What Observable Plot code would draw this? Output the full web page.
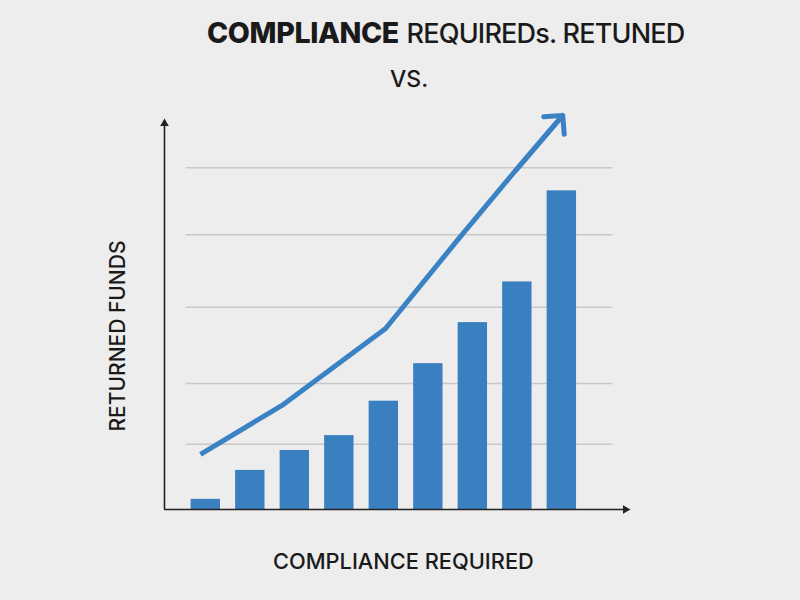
<!DOCTYPE html>
<html>
<head>
<meta charset="utf-8">
<script src="https://cdn.jsdelivr.net/npm/d3@7"></script>
<script src="https://cdn.jsdelivr.net/npm/@observablehq/plot@0.6"></script>
<style>
  html, body { margin: 0; padding: 0; background: #ededed; }
  #wrap { position: relative; width: 800px; height: 600px; overflow: hidden; background: #ededed; font-family: Inter, "Open Sans", sans-serif; color: #1a1a1a; }
  #wrap svg { position: absolute; left: 0; top: 0; }
  .t { position: absolute; white-space: nowrap; line-height: 1; }
  #title { left: 207px; top: 19px; font-size: 27px; }
  #title b { font-weight: 800; font-size: 28.6px; letter-spacing: -0.4px; }
  #title span { font-weight: 500; letter-spacing: -0.8px; }
  #vs { left: 390px; top: 68px; font-size: 23px; font-weight: 500; }
  #xlab { left: 273px; top: 551px; font-size: 21.8px; font-weight: 500; }
  #ylab { left: 117px; top: 336px; font-size: 21px; font-weight: 500; transform: translate(-50%, -50%) rotate(-90deg); }
</style>
</head>
<body>
<div id="wrap">
  <div class="t" id="title"><b>COMPLIANCE</b> <span>REQUIREDs. RETUNED</span></div>
  <div class="t" id="vs">VS.</div>
  <div class="t" id="xlab">COMPLIANCE REQUIRED</div>
  <div class="t" id="ylab">RETURNED FUNDS</div>
</div>
<script>
// Bars: compliance level index and returned funds
const categories = [1, 2, 3, 4, 5, 6, 7, 8, 9];
const returnedFunds = [2.6, 10, 15.1, 18.9, 27.7, 37.3, 47.8, 58.2, 81.5];
// Trend line (x in category units, y in value units)
const trendX = [0.88, 2.75, 5.04, 6.72, 7.96, 9.02];
const trendY = [14.1, 26.9, 46.3, 69.8, 86.7, 100.8];
// Horizontal gridlines
const gridValues = [16.7, 32.2, 51.7, 70.3, 87.4];
const gridExtent = [0.56, 10.15];
const xDomain = [0.072, 10.52];
const yDomain = [0, 100];
const axisEnds = {x: 10.43, y: 98.7};

const bars = categories.map((c, i) => ({c, v: returnedFunds[i]}));
const trend = trendX.map((x, i) => ({x, y: trendY[i]}));
const n = trend.length;
const head = [{x1: trend[n - 2].x, y1: trend[n - 2].y, x2: trend[n - 1].x, y2: trend[n - 1].y}];

const axisColor = "#222";
const blue = "#3a80c0";
const lineBlue = "#3b82c4";

const chart = Plot.plot({
  width: 800,
  height: 600,
  marginLeft: 164,
  marginRight: 171,
  marginTop: 118,
  marginBottom: 91,
  style: {background: "transparent", overflow: "visible"},
  x: {type: "linear", domain: xDomain, axis: null},
  y: {domain: yDomain, axis: null},
  marks: [
    Plot.ruleY(gridValues, {x1: gridExtent[0], x2: gridExtent[1], stroke: "#c8c8c8", strokeWidth: 1.5}),
    Plot.rectY(bars, {x1: d => d.c - 0.33, x2: d => d.c + 0.33, y1: 0, y2: "v", fill: blue}),
    Plot.line(trend, {x: "x", y: "y", stroke: lineBlue, strokeWidth: 5, strokeLinecap: "butt", strokeLinejoin: "round"}),
    Plot.arrow(head, {x1: "x1", y1: "y1", x2: "x2", y2: "y2", stroke: lineBlue, strokeWidth: 5, headAngle: 90, headLength: 5.7}),
    // axes
    Plot.ruleY([yDomain[0]], {x1: xDomain[0], x2: axisEnds.x, stroke: axisColor, strokeWidth: 1.6}),
    Plot.ruleX([xDomain[0]], {y1: yDomain[0], y2: axisEnds.y, stroke: axisColor, strokeWidth: 1.6}),
    Plot.dot([{x: axisEnds.x, y: yDomain[0], r: 90}, {x: xDomain[0], y: axisEnds.y, r: 0}], {x: "x", y: "y", rotate: "r", symbol: "triangle", r: 3.2, fill: axisColor, stroke: null})
  ]
});
document.getElementById("wrap").prepend(chart);
</script>
</body>
</html>
